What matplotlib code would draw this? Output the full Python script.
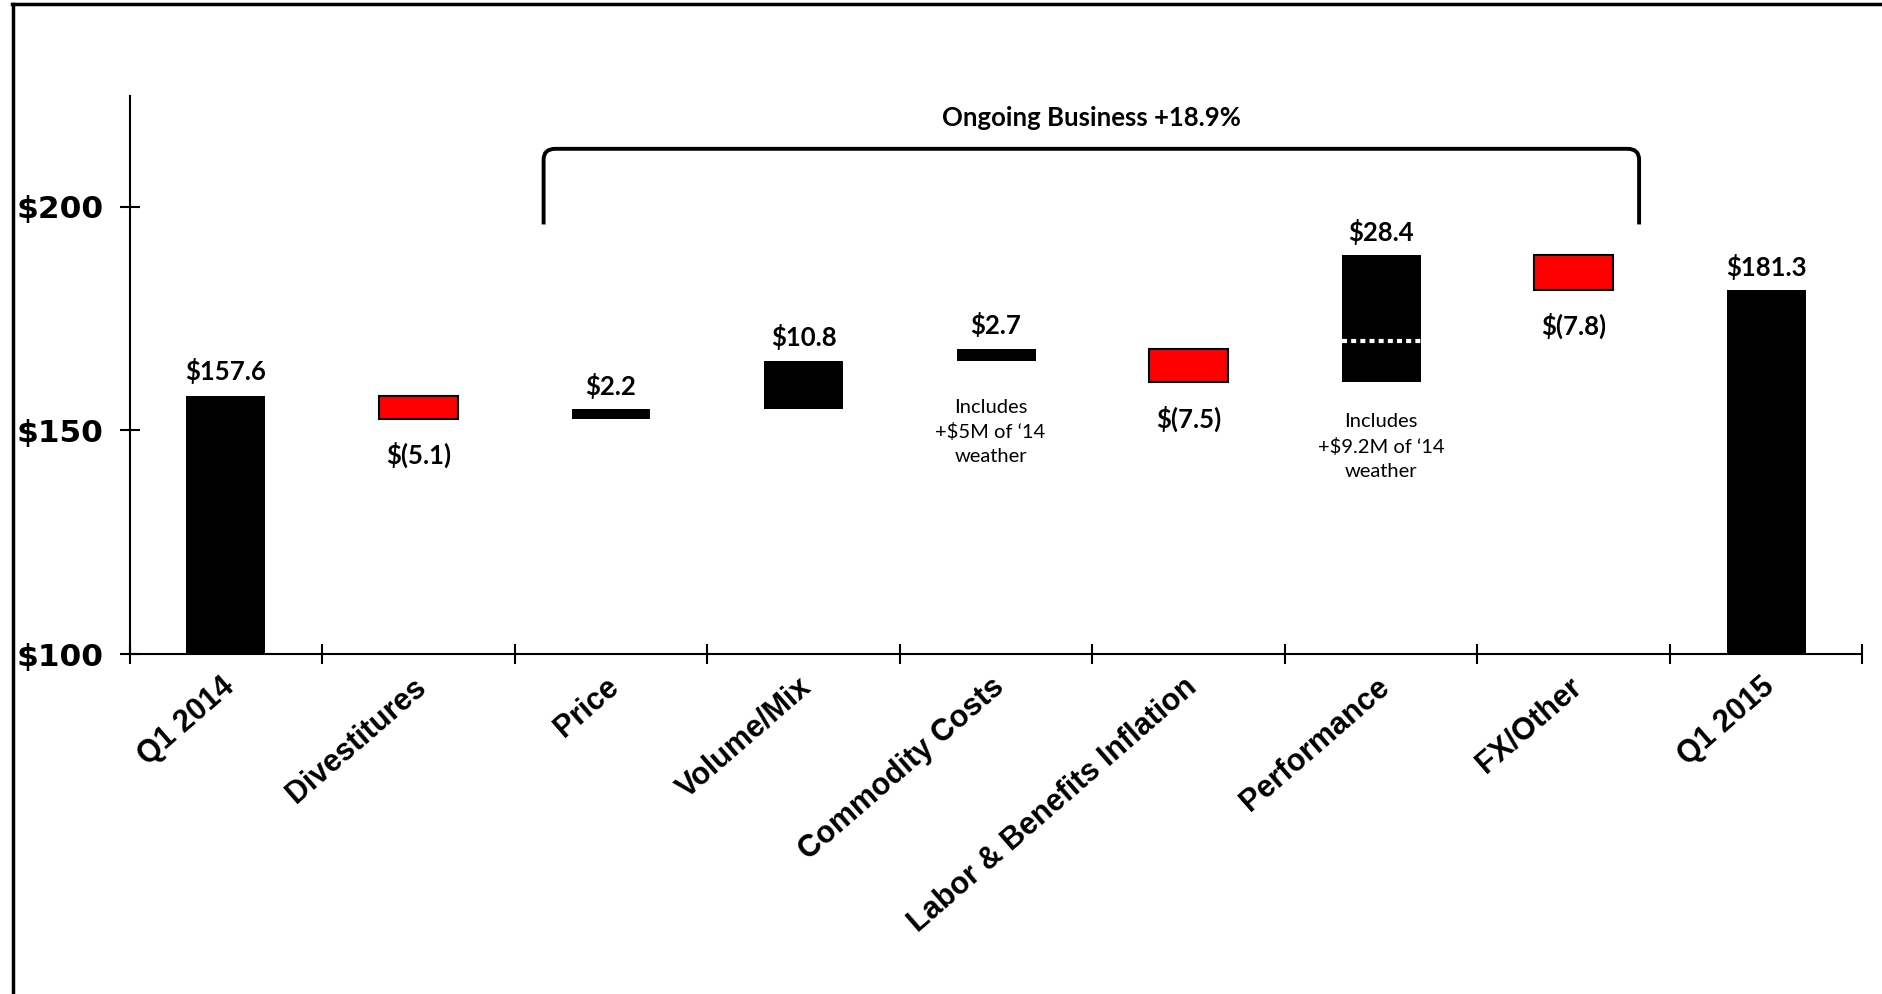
import matplotlib
matplotlib.use("Agg")
import matplotlib.pyplot as plt
from matplotlib.lines import Line2D
from matplotlib.path import Path
from matplotlib.patches import PathPatch
import numpy as np

# ---------------- data ----------------
categories = ["Q1 2014", "Divestitures", "Price", "Volume/Mix", "Commodity Costs",
              "Labor & Benefits Inflation", "Performance", "FX/Other", "Q1 2015"]
start_total = 157.6
changes = [-5.1, 2.2, 10.8, 2.7, -7.5, 28.4, -7.8]
end_total = 181.3
y_ticks = [100, 150, 200]
y_tick_labels = ["$100", "$150", "$200"]
bracket_title = "Ongoing Business +18.9%"
weather_notes = {"Commodity Costs": 5.0, "Performance": 9.2}
note_texts = {"Commodity Costs": "Includes\n+\\$5M of \u201814\nweather",
              "Performance": "Includes\n+\\$9.2M of \u201814\nweather"}

# ---------------- figure ----------------
W, H, DPI = 1882, 994, 100
fig = plt.figure(figsize=(W / DPI, H / DPI), dpi=DPI)
ax = fig.add_axes([0.0689, 0.342, 0.9207, 0.5614])

ymin, ymax = 100, 224.7
ax.set_ylim(ymin, ymax)
ax.set_xlim(-0.5, len(categories) - 0.5)

bw = 0.41
val_font = dict(family="Lato", weight="bold", size=18.5)


def fmt(v):
    return "\\$%.1f" % v if v >= 0 else "\\$(%.1f)" % abs(v)


# start total
ax.bar(0, start_total - ymin, bottom=ymin, width=bw, color="black", zorder=3)
ax.annotate(fmt(start_total), (0, start_total), xytext=(0, 18), textcoords="offset points",
            ha="center", va="center", **val_font)

level = start_total
for i, d in enumerate(changes, start=1):
    lo, hi = (level, level + d) if d >= 0 else (level + d, level)
    if d >= 0:
        ax.bar(i, hi - lo, bottom=lo, width=bw, color="black", zorder=3)
        ax.annotate(fmt(d), (i, hi), xytext=(0, 17), textcoords="offset points",
                    ha="center", va="center", **val_font)
    else:
        ax.bar(i, hi - lo, bottom=lo, width=bw, color="#FF0000", edgecolor="black",
               linewidth=1.5, zorder=3)
        ax.annotate(fmt(d), (i, lo), xytext=(0, -26), textcoords="offset points",
                    ha="center", va="center", **val_font)
    cat = categories[i]
    if cat in weather_notes:
        ax.plot([i - bw / 2, i + bw / 2], [lo + weather_notes[cat]] * 2, color="white",
                lw=3, linestyle=(0, (1.2, 1.0)), zorder=4, solid_capstyle="butt",
                dash_capstyle="butt")
        dx = -4 if cat == "Commodity Costs" else 0
        dy = -51 if cat == "Commodity Costs" else -46
        ax.annotate(note_texts[cat], (i, lo), xytext=(dx, dy), textcoords="offset points",
                    ha="center", va="center", family="Lato", size=14.5, linespacing=1.5)
    level += d

last = len(categories) - 1
ax.bar(last, end_total - ymin, bottom=ymin, width=bw, color="black", zorder=3)
ax.annotate(fmt(end_total), (last, end_total), xytext=(0, 17), textcoords="offset points",
            ha="center", va="center", **val_font)

# ---------------- axes styling ----------------
for s in ["top", "right"]:
    ax.spines[s].set_visible(False)
for s in ["left", "bottom"]:
    ax.spines[s].set_linewidth(1.5)
    ax.spines[s].set_zorder(5)

ax.set_yticks(y_ticks)
ax.set_yticklabels(y_tick_labels, family="DejaVu Sans", weight="bold", size=22.5)
ax.tick_params(axis="y", direction="inout", length=14, width=1.5, pad=12)

ax.set_xticks(np.arange(len(categories) + 1) - 0.5)
ax.set_xticklabels([])
ax.tick_params(axis="x", direction="inout", length=14, width=1.5)

for i, c in enumerate(categories):
    ax.annotate(c, (i, ymin), xytext=(3, -21), textcoords="offset points",
                rotation=41, rotation_mode="anchor", ha="right", va="center",
                family="Liberation Sans", weight="bold", size=22, annotation_clip=False)

# ---------------- bracket ----------------
x0, x1 = 1.65, 7.34
yb, yt = 196.0, 212.9
rx, ry = 0.06, 2.4
verts = [(x0, yb), (x0, yt - ry), (x0, yt), (x0 + rx, yt), (x1 - rx, yt),
         (x1, yt), (x1, yt - ry), (x1, yb)]
codes = [Path.MOVETO, Path.LINETO, Path.CURVE3, Path.CURVE3, Path.LINETO,
         Path.CURVE3, Path.CURVE3, Path.LINETO]
ax.add_patch(PathPatch(Path(verts, codes), fill=False, lw=2.8, edgecolor="black",
                       clip_on=False, capstyle="butt"))
ax.text((x0 + x1) / 2, 219.8, bracket_title, ha="center", va="center",
        family="Lato", weight="bold", size=18.5, clip_on=False)

# ---------------- frame ----------------
fig.add_artist(Line2D([0.0069, 0.0069], [0, 0.9955], transform=fig.transFigure,
                      color="black", lw=2.5))
fig.add_artist(Line2D([0.0062, 1.0], [0.9955, 0.9955], transform=fig.transFigure,
                      color="black", lw=2.5))

fig.savefig("out.png", dpi=DPI)
